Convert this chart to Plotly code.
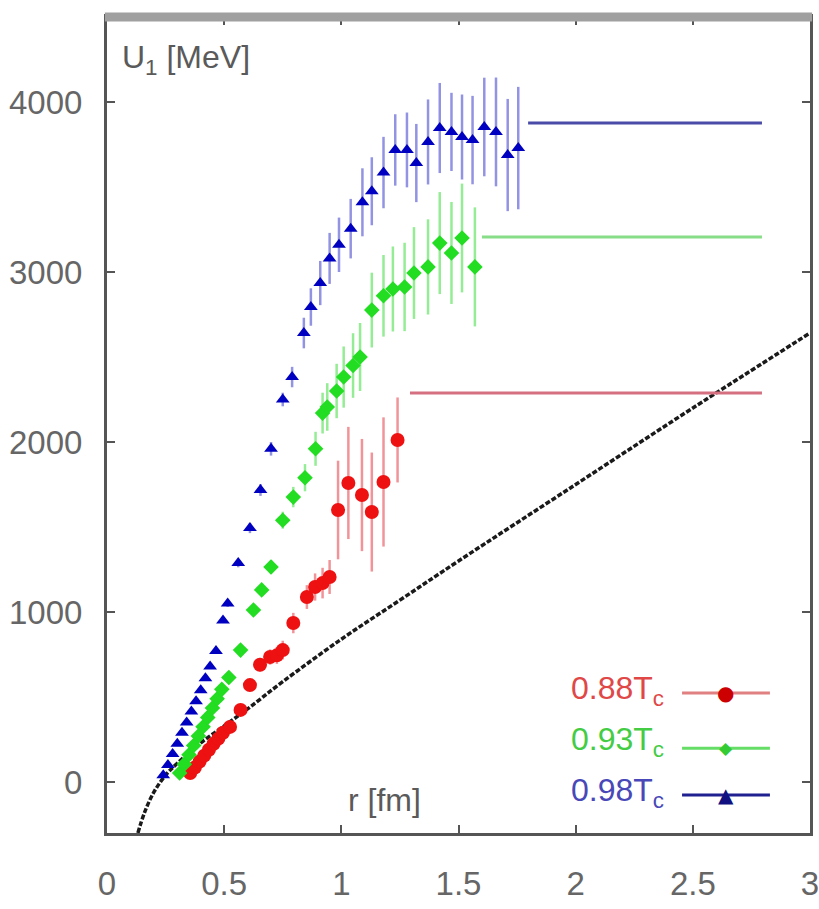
import plotly.graph_objects as go

# ---------------- data ----------------
r_red = [0.355, 0.375, 0.395, 0.415, 0.435, 0.455, 0.475, 0.495, 0.525, 0.57, 0.61, 0.653,
         0.696, 0.725, 0.75, 0.795, 0.853, 0.888, 0.92, 0.95, 0.986, 1.03, 1.088, 1.13, 1.18, 1.24]
u_red = [53, 85, 120, 155, 190, 225, 255, 290, 324, 424, 570, 690,
         735, 745, 776, 935, 1088, 1147, 1170, 1206, 1600, 1759, 1688, 1588, 1765, 2012]
e_red = [20, 20, 20, 20, 20, 20, 20, 20, 25, 30, 35, 40,
         45, 50, 55, 60, 70, 80, 90, 100, 290, 330, 330, 350, 380, 250]

r_green = [0.31, 0.33, 0.35, 0.37, 0.39, 0.41, 0.43, 0.45, 0.47, 0.49, 0.52, 0.57, 0.625,
           0.66, 0.70, 0.75, 0.795, 0.845, 0.89, 0.92, 0.94, 0.98, 1.01, 1.05, 1.08, 1.13,
           1.18, 1.22, 1.27, 1.31, 1.37, 1.42, 1.47, 1.515, 1.57]
u_green = [53, 105, 160, 215, 270, 325, 380, 435, 490, 545, 615, 776, 1012,
           1130, 1265, 1540, 1676, 1790, 1960, 2170, 2206, 2300, 2382, 2450, 2500, 2776,
           2860, 2900, 2912, 2994, 3030, 3170, 3112, 3200, 3030]
e_green = [15, 15, 15, 15, 15, 15, 15, 15, 15, 15, 20, 25, 30,
           35, 40, 50, 60, 80, 100, 120, 140, 160, 180, 190, 200, 220,
           240, 250, 260, 270, 280, 300, 300, 320, 350]

r_blue = [0.24, 0.26, 0.28, 0.30, 0.32, 0.34, 0.36, 0.38, 0.40, 0.42, 0.44, 0.465, 0.495,
          0.515, 0.56, 0.61, 0.655, 0.70, 0.75, 0.79, 0.84, 0.87, 0.91, 0.95, 0.99, 1.04,
          1.09, 1.13, 1.18, 1.23, 1.28, 1.32, 1.37, 1.42, 1.47, 1.515, 1.56, 1.61, 1.66,
          1.71, 1.755]
u_blue = [40, 100, 165, 225, 290, 350, 415, 475, 540, 610, 680, 770, 950,
          1050, 1288, 1494, 1718, 1960, 2250, 2382, 2641, 2794, 2935, 3080, 3160, 3255,
          3410, 3475, 3585, 3718, 3718, 3641, 3765, 3847, 3824, 3794, 3776, 3853, 3824,
          3688, 3729]
e_blue = [10, 10, 10, 10, 10, 10, 10, 10, 10, 10, 10, 10, 15,
          20, 25, 30, 35, 40, 40, 60, 90, 110, 130, 150, 160, 175,
          200, 200, 210, 210, 220, 230, 250, 265, 230, 250, 260, 290, 320,
          330, 360]

# asymptotic (plateau) values: red, green, blue
plateau_u = [2288, 3206, 3876]
plateau_start = [1.293, 1.60, 1.797]
plateau_end = [2.795, 2.795, 2.795]

# reference black curve
r_line = [0.132, 0.16, 0.2, 0.25, 0.3, 0.4, 0.5, 0.6, 0.75, 1.0, 1.25, 1.5, 2.0, 2.5, 3.0]
u_line = [-300, -180, -60, 40, 110, 230, 330, 430, 590, 840, 1070, 1300, 1750, 2200, 2641]

series_labels = ["0.88T<sub>c</sub>", "0.93T<sub>c</sub>", "0.98T<sub>c</sub>"]
x_tickvals = [0, 0.5, 1, 1.5, 2, 2.5, 3]
x_ticktext = ["0", "0.5", "1", "1.5", "2", "2.5", "3"]
y_tickvals = [0, 1000, 2000, 3000, 4000]
y_ticktext = ["0", "1000", "2000", "3000", "4000"]

# ---------------- style ----------------
FONT = "Liberation Sans, Arial, sans-serif"
marker_col = ["#ee1111", "#22dd22", "#0000c0"]
err_col = ["rgba(230,60,70,0.55)", "rgba(60,220,60,0.55)", "rgba(40,40,200,0.5)"]
plat_col = ["#d47080", "#88dd88", "#4a4aa8"]
symbols = ["circle", "diamond", "triangle-up"]
sizes = [14, 12, 12]

fig = go.Figure()

fig.add_trace(go.Scatter(x=r_line, y=u_line, mode="lines", line_shape="spline",
                         line=dict(color="#1a1a1a", width=3.5, dash="5px,2px"),
                         showlegend=False, hoverinfo="skip"))

data = [(r_red, u_red, e_red), (r_green, u_green, e_green), (r_blue, u_blue, e_blue)]
for i, (rx, uy, ee) in enumerate(data):
    fig.add_trace(go.Scatter(
        x=[plateau_start[i], plateau_end[i]], y=[plateau_u[i], plateau_u[i]],
        mode="lines", line=dict(color=plat_col[i], width=3), showlegend=False))
    fig.add_trace(go.Scatter(
        x=rx, y=uy, mode="markers",
        marker=dict(symbol=symbols[i], size=sizes[i], color=marker_col[i], line=dict(width=0)),
        error_y=dict(type="data", array=ee, thickness=2.5, width=0, color=err_col[i]),
        showlegend=False))

# ---------------- manual legend (text left, sample right) ----------------
leg_y_text = [0.175, 0.112, 0.050]
leg_y_line = [0.1716, 0.104, 0.0466]
leg_glyph = ["\u25CF", "\u25C6", "\u25B2"]
leg_line_col = ["#e08080", "#66dd66", "#202090"]
leg_text_col = ["#e04848", "#44cc44", "#4848b8"]
for i in range(3):
    fig.add_annotation(xref="paper", yref="paper", x=0.795, y=leg_y_text[i],
                       xanchor="right", yanchor="middle", showarrow=False,
                       text=series_labels[i],
                       font=dict(family=FONT, size=32, color=leg_text_col[i]))
    fig.add_shape(type="line", xref="paper", yref="paper",
                  x0=0.818, x1=0.943, y0=leg_y_line[i], y1=leg_y_line[i],
                  line=dict(color=leg_line_col[i], width=3))
    fig.add_annotation(xref="paper", yref="paper", x=0.880, y=leg_y_line[i],
                       xanchor="center", yanchor="middle", showarrow=False,
                       text=leg_glyph[i],
                       font=dict(family="DejaVu Sans", size=20 if i != 1 else 17,
                                 color=["#cc0000", "#33cc33", "#101080"][i]))

# axis labels inside the plot
fig.add_annotation(xref="paper", yref="paper", x=0.018, y=0.975, xanchor="left", yanchor="top",
                   showarrow=False, text="U<sub>1</sub> [MeV]",
                   font=dict(family=FONT, size=32, color="#5a5a5a"))
fig.add_annotation(xref="paper", yref="paper", x=0.395, y=0.040, xanchor="center",
                   yanchor="middle", showarrow=False, text="r [fm]",
                   font=dict(family=FONT, size=32, color="#5a5a5a"))

# thick grey top border
fig.add_shape(type="line", xref="paper", yref="paper", x0=-0.003, x1=1.003, y0=1.0, y1=1.0,
              line=dict(color="#a0a0a0", width=9))

axis_common = dict(showgrid=False, zeroline=False, showline=True, linecolor="#555555",
                   linewidth=3, mirror="ticks", ticks="inside", ticklen=8, tickwidth=2,
                   tickcolor="#555555", automargin=False, ticklabeloverflow="allow",
                   tickfont=dict(family=FONT, size=33, color="#666666"))

fig.update_xaxes(range=[0, 3], tickvals=x_tickvals, ticktext=x_ticktext,
                 ticklabelstandoff=19, **axis_common)
fig.update_yaxes(range=[-300, 4500], tickvals=y_tickvals, ticktext=y_ticktext,
                 ticklabelstandoff=15, **axis_common)

fig.update_layout(width=819, height=909, plot_bgcolor="white", paper_bgcolor="white",
                  margin=dict(l=107, r=9, t=17, b=76), showlegend=False)

fig.write_html("out.html")
